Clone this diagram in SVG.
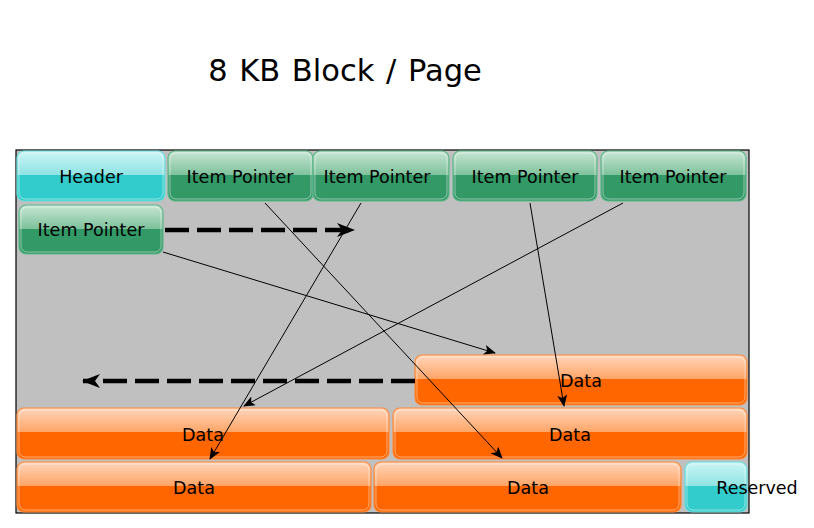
<svg xmlns="http://www.w3.org/2000/svg" width="814" height="528" viewBox="0 0 814 528">
<defs>
<linearGradient id="gGreen" x1="0" y1="0" x2="0" y2="1">
<stop offset="0" stop-color="#c8e6d4"/>
<stop offset="0.48" stop-color="#7ec29c"/>
<stop offset="0.48" stop-color="#339966"/>
<stop offset="1" stop-color="#339966"/>
</linearGradient>
<linearGradient id="gCyan" x1="0" y1="0" x2="0" y2="1">
<stop offset="0" stop-color="#cbf5f5"/>
<stop offset="0.48" stop-color="#8fe3e3"/>
<stop offset="0.48" stop-color="#33cccc"/>
<stop offset="1" stop-color="#33cccc"/>
</linearGradient>
<linearGradient id="gOrange" x1="0" y1="0" x2="0" y2="1">
<stop offset="0" stop-color="#ffd6bb"/>
<stop offset="0.48" stop-color="#ffa466"/>
<stop offset="0.48" stop-color="#ff6600"/>
<stop offset="1" stop-color="#ff6600"/>
</linearGradient>
<marker id="thin" viewBox="0 0 12 10" refX="11" refY="5" markerWidth="12" markerHeight="10" markerUnits="userSpaceOnUse" orient="auto">
<path d="M0,0 L12,5 L0,10 L3,5 Z" fill="#000"/>
</marker>
<marker id="thick" viewBox="0 0 18 14" refX="17" refY="7" markerWidth="18" markerHeight="14" markerUnits="userSpaceOnUse" orient="auto">
<path d="M0,0 L18,7 L0,14 L5,7 Z" fill="#000"/>
</marker>
</defs>
<style>
.t{font-family:"DejaVu Sans","Liberation Sans",sans-serif;font-size:17.5px;fill:#000;text-anchor:middle}
.green{fill:url(#gGreen);stroke:#5db78a;stroke-width:1.2}
.cyan{fill:url(#gCyan);stroke:#6fdcdc;stroke-width:1.2}
.orange{fill:url(#gOrange);stroke:#ff8a3a;stroke-width:1.2}
.hl{fill:none;stroke:#ffffff;stroke-opacity:0.45;stroke-width:1}
.ln{stroke:#000;stroke-width:1;fill:none;marker-end:url(#thin)}
.dash{stroke:#000;stroke-width:4.5;fill:none;stroke-dasharray:24 8;marker-end:url(#thick)}
</style>
<rect x="0" y="0" width="814" height="528" fill="#ffffff"/>
<text x="345" y="81" font-family="DejaVu Sans,Liberation Sans,sans-serif" font-size="30.5" word-spacing="2" text-anchor="middle" fill="#000">8 KB Block / Page</text>
<rect id="page" x="16" y="150" width="733" height="363" fill="#c0c0c0" stroke="#000" stroke-width="1.2"/>

<g id="header"><rect class="cyan" x="17" y="151" width="148" height="50" rx="7"/><rect class="hl" x="19" y="153" width="144" height="46" rx="6"/><text class="t" x="91" y="183">Header</text></g>
<g id="ip1"><rect class="green" x="168" y="151" width="145" height="50" rx="7"/><rect class="hl" x="170" y="153" width="141" height="46" rx="6"/><text class="t" x="240" y="183">Item Pointer</text></g>
<g id="ip2"><rect class="green" x="313" y="151" width="136" height="50" rx="7"/><rect class="hl" x="315" y="153" width="132" height="46" rx="6"/><text class="t" x="377" y="183">Item Pointer</text></g>
<g id="ip3"><rect class="green" x="453" y="151" width="144" height="50" rx="7"/><rect class="hl" x="455" y="153" width="140" height="46" rx="6"/><text class="t" x="525" y="183">Item Pointer</text></g>
<g id="ip4"><rect class="green" x="601" y="151" width="145" height="50" rx="7"/><rect class="hl" x="603" y="153" width="141" height="46" rx="6"/><text class="t" x="673" y="183">Item Pointer</text></g>
<g id="ip5"><rect class="green" x="19" y="205" width="144" height="49" rx="7"/><rect class="hl" x="21" y="207" width="140" height="45" rx="6"/><text class="t" x="91" y="236">Item Pointer</text></g>

<g id="data1"><rect class="orange" x="415" y="355" width="332" height="50" rx="7"/><rect class="hl" x="417" y="357" width="328" height="46" rx="6"/><text class="t" x="581" y="387">Data</text></g>
<g id="data2"><rect class="orange" x="17" y="408" width="372" height="51" rx="7"/><rect class="hl" x="19" y="410" width="368" height="47" rx="6"/><text class="t" x="203" y="441">Data</text></g>
<g id="data3"><rect class="orange" x="393" y="408" width="354" height="51" rx="7"/><rect class="hl" x="395" y="410" width="350" height="47" rx="6"/><text class="t" x="570" y="441">Data</text></g>
<g id="data4"><rect class="orange" x="17" y="462" width="354" height="50" rx="7"/><rect class="hl" x="19" y="464" width="350" height="46" rx="6"/><text class="t" x="194" y="494">Data</text></g>
<g id="data5"><rect class="orange" x="374" y="462" width="307" height="50" rx="7"/><rect class="hl" x="376" y="464" width="303" height="46" rx="6"/><text class="t" x="528" y="494">Data</text></g>
<g id="reserved"><rect class="cyan" x="685" y="462" width="62" height="50" rx="7"/><rect class="hl" x="687" y="464" width="58" height="46" rx="6"/><text class="t" x="757" y="494">Reserved</text></g>

<g id="connectors">
<line class="dash" x1="165" y1="230" x2="354" y2="230"/>
<line class="dash" x1="415" y1="381" x2="83" y2="381"/>
<line class="ln" x1="265" y1="203" x2="502" y2="458"/>
<line class="ln" x1="361" y1="203" x2="210" y2="459"/>
<line class="ln" x1="530" y1="203" x2="564" y2="406"/>
<line class="ln" x1="623" y1="203" x2="244" y2="406"/>
<line class="ln" x1="163" y1="252" x2="495" y2="353"/>
</g>
</svg>
